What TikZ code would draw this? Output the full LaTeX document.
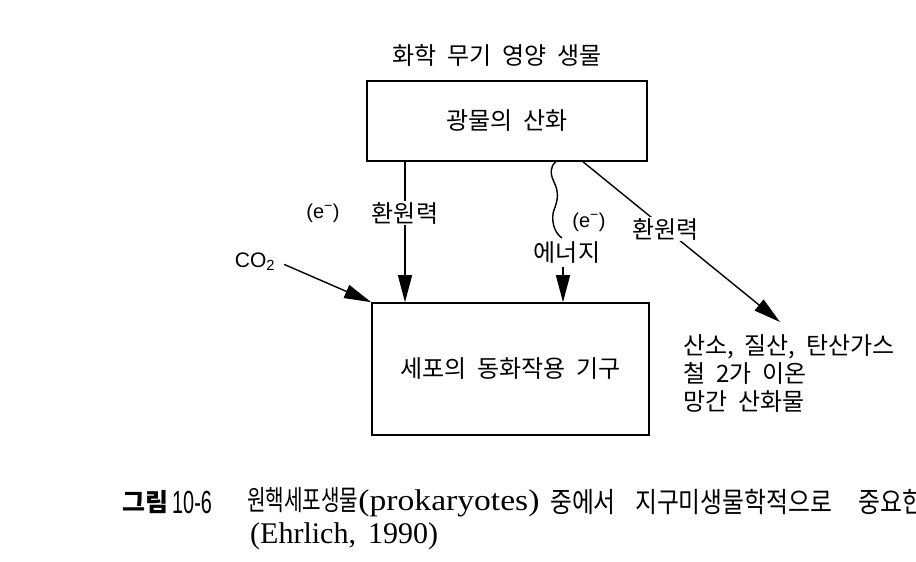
\documentclass[tikz,border=0pt]{standalone}
\usepackage{fontspec}
\setmainfont{Liberation Sans}
\newfontfamily\kr[WordSpace=2]{Noto Sans CJK KR}
\newfontfamily\krcap[FakeStretch=0.85,WordSpace=1.5]{Noto Sans CJK KR}
\newfontfamily\krnarrow[FakeStretch=0.72]{Noto Sans CJK KR}
\newfontfamily\capserif{Liberation Serif}
\newfontfamily\capwide[FakeStretch=1.12]{Liberation Serif}
\newfontfamily\capsans[FakeStretch=0.62]{Liberation Sans}
\usetikzlibrary{arrows.meta}
\tikzset{
  box/.style={draw, line width=1.6pt, inner sep=0pt},
  arr/.style={line width=1.4pt, -{Triangle[length=27pt,width=14pt]}},
  lbl/.style={font=\kr\fontsize{24}{28}\selectfont},
  elbl/.style={font=\fontsize{20}{24}\selectfont},
  captext/.style={anchor=west, inner sep=0pt, font=\krcap\fontsize{28}{30}\selectfont},
}
\begin{document}
\begin{tikzpicture}[x=1pt,y=-1pt]
  \useasboundingbox (0,0) rectangle (916,562);
  \node[lbl] (title) at (497,55) {화학 무기 영양 생물};
  \node[box, lbl, minimum width=280pt, minimum height=80pt] (mineral) at (507,121) {광물의 산화};
  \node[box, lbl, minimum width=277pt, minimum height=132pt] (cell) at (510.5,369) {세포의 동화작용 기구};
  % reducing power to the cell
  \coordinate (lx) at (405,0);
  \draw[arr] (mineral.south -| lx) -- (cell.north -| lx)
    node[pos=0.366, lbl, fill=white, inner sep=1pt] (red1) {환원력};
  \node[elbl] (e1) at (323,213) {(e\textsuperscript{−})};
  % energy
  \coordinate (wx) at (556,0);
  \coordinate (wend) at (562,238);
  \draw[line width=1.4pt] (mineral.south -| wx) .. controls (550,166) and (550,174) .. (554,182)
    .. controls (559,192) and (558,200) .. (554,210) .. controls (551,218) and (553,232) .. (wend);
  \node[elbl] (e2) at (589,222) {(e\textsuperscript{−})};
  \node[lbl] (energy) at (567,253) {에너지};
  \coordinate (ex) at (563,0);
  \draw[arr] (energy.south -| ex) -- (cell.north -| ex);
  % reducing power to the oxidised products
  \coordinate (rx) at (583,0);
  \coordinate (oxend) at (780,322);
  \draw[arr] (mineral.south -| rx) -- (oxend)
    node[pos=0.42, lbl, fill=white, inner sep=1pt] (red2) {환원력};
  \node[anchor=north west, align=left, inner sep=0pt, font=\kr\fontsize{24}{28}\selectfont] (products) at (683,334)
    {산소, 질산, 탄산가스\\철 2가 이온\\망간 산화물};
  % carbon dioxide
  \node[font=\fontsize{21}{25}\selectfont] (co2) at (255,262) {CO\textsubscript{2}};
  \draw[arr, shorten <=6pt] (co2.east) -- (cell.north west);
  % caption
  \node[captext, font=\kr\bfseries\fontsize{25}{28}\selectfont] (fig) at (122,502) {그림};
  \node[captext, font=\capsans\fontsize{32}{32}\selectfont] (fignum) at (172,502) {10-6};
  \node[captext, font=\krnarrow\fontsize{28}{30}\selectfont] (cap1) at (247,502) {원핵세포생물{\capwide\fontsize{30}{30}\selectfont(prokaryotes)}};
  \node[captext] (cap2) at (550,502) {중에서};
  \node[captext] (cap3) at (635,502) {지구미생물학적으로};
  \node[captext] (cap4) at (858,502) {중요한};
  \node[captext, font=\capserif\fontsize{30}{30}\selectfont] (cap5) at (250,536) {(Ehrlich,\hspace{12pt}1990)};
\end{tikzpicture}
\end{document}
